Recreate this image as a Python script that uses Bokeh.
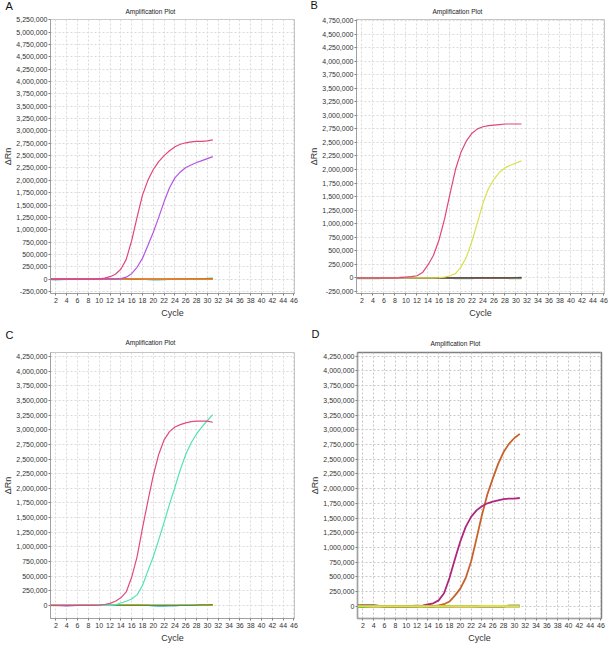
from bokeh.plotting import figure
from bokeh.models import FixedTicker, NumeralTickFormatter, Range1d, Title
from bokeh.layouts import column, row
from bokeh.embed import file_html
from bokeh.resources import INLINE

cycles = list(range(1, 32))
x_ticks = list(range(2, 47, 2))

# Panel A
a_pink = [0, 0, 0, 0, 0, 0, 0, 0, 2000, 5000, 20000, 50000, 100000, 200000, 400000, 780000,
          1250000, 1700000, 2000000, 2220000, 2380000, 2500000, 2600000, 2680000, 2730000,
          2760000, 2780000, 2790000, 2790000, 2800000, 2820000]
a_violet = [0, 0, 0, 0, 0, 0, 0, 0, 0, 0, 0, 0, 0, 10000, 40000, 110000, 240000, 420000, 680000,
            950000, 1250000, 1570000, 1850000, 2050000, 2170000, 2260000, 2310000, 2360000,
            2400000, 2440000, 2480000]
a_teal = [-12000, -14000, -10000, -3000, 0, 0, 0, 0, 0, 0, 0, 0, 0, 0, 0, 0, 0, 0, -8000, -14000,
          -15000, -12000, -4000, 0, 0, 0, 0, 0, 5000, 18000, 22000]
a_green = [0, 0, 0, 0, 0, 0, 0, 0, 0, 0, 3000, 6000, 8000, 7000, 5000, 4000, 2000, 0, 0, 0, 0, 0,
           0, 0, 0, 2000, 5000, 8000, 10000, 12000, 10000]
a_red = [0, 0, 0, 0, 0, 0, 0, 0, 3000, 9000, 12000, 8000, 3000, 0, 0, 0, 0, 0, 0, 0, 0, 0, 0, 0,
         0, 0, 0, 0, 0, 0, 0]
a_orange = [0, 0, 0, 0, 0, 0, 0, 0, 0, 0, 0, 0, 0, 0, 2000, 6000, 4000, 0, 0, 0, 3000, 0, 0, 0,
            0, 0, 0, 0, 0, 0, 0]

# Panel B
b_pink = [0, 0, 0, 0, 0, 0, 0, 0, 5000, 15000, 25000, 40000, 100000, 240000, 420000, 700000,
          1080000, 1550000, 2000000, 2320000, 2530000, 2670000, 2750000, 2790000, 2810000,
          2820000, 2830000, 2840000, 2840000, 2840000, 2840000]
b_yellow = [0, 0, 0, 0, 0, 0, 0, 0, 0, 0, 0, 0, 0, 0, 0, 5000, 15000, 40000, 80000, 200000,
            390000, 680000, 1020000, 1380000, 1650000, 1820000, 1950000, 2030000, 2080000,
            2120000, 2160000]
b_teal = [-15000, -15000, -15000, -15000, -12000, -4000, 0, 0, 0, 0, 0, 0, 0, 0, 0, 0, 0,
          -6000, -14000, -15000, -15000, -12000, -5000, 0, 0, 0, 0, -6000, -15000, -15000, -15000]
b_green = [0, 0, 0, 0, 0, 0, 0, 0, 4000, 8000, 9000, 8000, 6000, 5000, 4000, 2000, 0, 0, 0, 0,
           0, 0, 0, 0, 0, 0, 0, 0, 0, 0, 0]
b_red = [0, 0, 0, 0, 0, 0, 0, 4000, 10000, 8000, 3000, 0, 0, 0, 0, 0, 0, 0, 0, 0, 0, 0, 0, 0,
         0, 0, 0, 0, 0, 0, 0]
b_dark = [0, 0, 0, 0, 0, 0, 0, 0, 0, 0, 0, 0, 0, 0, 0, 0, 0, 0, 0, 0, 0, 0, 0, 0, 0, 0, 0, 0,
          4000, 8000, 10000]

# Panel C
c_pink = [0, 0, 0, 0, 0, 0, 0, 0, 0, 5000, 15000, 35000, 70000, 130000, 230000, 480000, 830000,
          1320000, 1780000, 2220000, 2580000, 2830000, 2970000, 3050000, 3090000, 3120000,
          3140000, 3150000, 3150000, 3150000, 3130000]
c_aqua = [0, 0, 0, 0, 0, 0, 0, 0, 0, 0, 0, 0, 10000, 40000, 70000, 110000, 180000, 340000,
          590000, 830000, 1120000, 1420000, 1730000, 2020000, 2320000, 2580000, 2780000,
          2930000, 3050000, 3160000, 3260000]
c_orange = [-5000, -5000, 0, 0, 0, 0, 0, 0, 0, 0, 0, 0, 0, 5000, 8000, 10000, 10000, 9000, 6000,
            0, 0, 0, 0, 0, 0, 0, 0, 0, 0, 0, 0]
c_violet = [0, 0, -6000, -10000, -4000, 0, 0, 0, 0, 0, 0, 0, 0, 0, 0, 0, 0, 0, 0, 0, 0, 0, 0, 0,
            0, 0, 0, 0, 0, 0, 0]
c_teal = [0, 0, 0, 0, 0, 0, 0, 0, 0, 0, 0, 0, 0, 0, 0, 0, 0, 0, 0, -8000, -14000, -12000,
          -10000, -8000, 0, 0, 0, 0, 0, 0, 0]
c_green = [0, 0, 0, 0, 0, 0, 0, 0, 0, 0, 0, 0, 0, 0, 0, 0, 0, 0, 0, 0, 0, 0, 0, 0, 0, 0, 0,
           5000, 8000, 10000, 14000]

# Panel D
d_magenta = [0, 0, 0, 0, 0, 0, 0, 0, 0, 0, 0, 0, 10000, 30000, 50000, 100000, 220000, 480000,
             800000, 1100000, 1350000, 1520000, 1630000, 1700000, 1750000, 1780000, 1800000,
             1820000, 1830000, 1830000, 1840000]
d_orange = [0, 0, 0, 0, 0, 0, 0, 0, 0, 0, 0, 0, 0, 0, 0, 15000, 35000, 80000, 180000, 300000,
            480000, 760000, 1150000, 1550000, 1900000, 2170000, 2420000, 2620000, 2760000,
            2860000, 2930000]
d_dark = [15000, 15000, 15000, 12000, 5000, 0, 0, 0, 0, 0, 0, 0, 0, 0, 0, 0, 0, 0, 0, 0, 0, 0, 0,
          0, 0, 0, 0, 0, 8000, 10000, 10000]
d_red = [5000, 8000, 10000, 10000, 4000, 0, 0, 0, 0, 0, 5000, 8000, 5000, 0, 0, 0, 0, 0, 0, 0,
         0, 0, 0, 0, 0, 0, 0, 0, 0, 0, 0]
d_green = [-10000, -12000, -5000, 0, 0, 0, 0, 0, 0, 0, 0, 0, 0, 0, 0, 0, 0, 0, 3000, 5000, 5000,
           3000, 0, 0, 0, 0, 0, 0, 0, 0, 0]
d_yellow = [0, 0, 0, 0, 0, 0, 0, 0, 0, 0, 0, 0, 0, 0, 0, 0, 0, 0, 0, 0, 0, 0, 2000, 3000, 3000,
            3000, 3000, 3000, 2000, 0, 0]

a_yticks = list(range(-250000, 5250001, 250000))
b_yticks = list(range(-250000, 4750001, 250000))
cd_yticks = list(range(0, 4250001, 250000))

FONT = "Liberation Sans"


def make_panel(letter, width, height, y_start, y_end, y_ticks, series, mbl, mbr, mbt, mbb,
               frame_color, frame_width, grid_color, title_offset, title_standoff,
               letter_offset, letter_standoff):
    p = figure(width=width, height=height, x_range=Range1d(1, 46.1),
               y_range=Range1d(y_start, y_end), output_backend="svg",
               toolbar_location=None, min_border_left=mbl, min_border_right=mbr,
               min_border_top=mbt, min_border_bottom=mbb, title=None)
    p.add_layout(Title(text="Amplification Plot", align="left", vertical_align="top",
                       offset=title_offset, standoff=title_standoff, text_font=FONT,
                       text_font_size="6.5px", text_font_style="normal",
                       text_color="#222222"), "above")
    p.add_layout(Title(text=letter, align="left", offset=letter_offset,
                       standoff=letter_standoff, text_font=FONT, text_font_size="11px",
                       text_font_style="normal", text_color="#111111"), "above")
    p.outline_line_color = frame_color
    p.outline_line_width = frame_width
    p.background_fill_color = "white"
    p.border_fill_color = "white"

    for g in (p.xgrid[0], p.ygrid[0]):
        g.grid_line_color = grid_color
        g.grid_line_dash = "2 2"
        g.grid_line_width = 1

    p.xaxis.ticker = FixedTicker(ticks=x_ticks)
    p.yaxis.ticker = FixedTicker(ticks=y_ticks)
    p.yaxis.formatter = NumeralTickFormatter(format="0,0")
    for ax in (p.xaxis[0], p.yaxis[0]):
        ax.major_label_text_font = FONT
        ax.major_label_text_font_size = "7px"
        ax.major_label_text_color = "#333333"
        ax.axis_label_text_font = FONT
        ax.axis_label_text_font_size = "9px"
        ax.axis_label_text_font_style = "normal"
        ax.axis_label_text_color = "#333333"
        ax.axis_line_color = "#a0a0a0"
        ax.major_tick_line_color = "#808080"
        ax.major_tick_out = 2
        ax.major_tick_in = 0
        ax.minor_tick_line_color = None
        ax.major_label_standoff = 2
        ax.axis_label_standoff = 2
    p.yaxis.major_label_standoff = 1
    p.yaxis.axis_label_standoff = 0
    p.xaxis.axis_label = "Cycle"
    p.yaxis.axis_label = "ΔRn"

    for ys, color, lw in series:
        p.line(cycles, ys, line_color=color, line_width=lw)
    return p


thin = 1.2
pA = make_panel("A", 300, 320, -290000, 5255000, a_yticks,
                [(a_teal, "#3cc8c0", thin), (a_green, "#4a9a30", thin), (a_red, "#e03a3a", thin),
                 (a_orange, "#f09020", thin), (a_violet, "#b455e4", thin), (a_pink, "#e2457c", thin)],
                48, 6, 18, 25, "#c4c4c4", 1, "#dadada", 75, 5, -45, -13.5)
pB = make_panel("B", 309, 320, -287000, 4768000, b_yticks,
                [(b_teal, "#3cc8c0", thin), (b_green, "#4a9a30", thin), (b_red, "#e03a3a", thin),
                 (b_dark, "#505050", thin), (b_yellow, "#d9e04a", thin), (b_pink, "#e0457f", thin)],
                56, 5, 19, 25, "#c4c4c4", 1, "#dadada", 76, 6, -46, -13.5)
pC = make_panel("C", 300, 325, -224000, 4322000, cd_yticks,
                [(c_violet, "#9040c0", thin), (c_teal, "#3cb0d0", thin), (c_orange, "#f0a020", thin),
                 (c_green, "#4a9a30", thin), (c_aqua, "#50e3b4", thin), (c_pink, "#e04a80", thin)],
                48, 6, 29, 26, "#c4c4c4", 1, "#dadada", 75, 10, -45, -14)
pD = make_panel("D", 309, 325, -208000, 4313000, cd_yticks,
                [(d_orange, "#c8622c", 1.8), (d_magenta, "#b0267f", 1.8), (d_dark, "#303030", 2),
                 (d_red, "#d03a2a", 2), (d_green, "#40c030", 2), (d_yellow, "#e0e040", 2)],
                57, 8, 32, 26, "#808080", 1.5, "#c8c8c8", 73, 7, -46, -6.5)

layout = column(row(pA, pB), row(pC, pD))
open("out.html", "w").write(file_html(layout, INLINE))
